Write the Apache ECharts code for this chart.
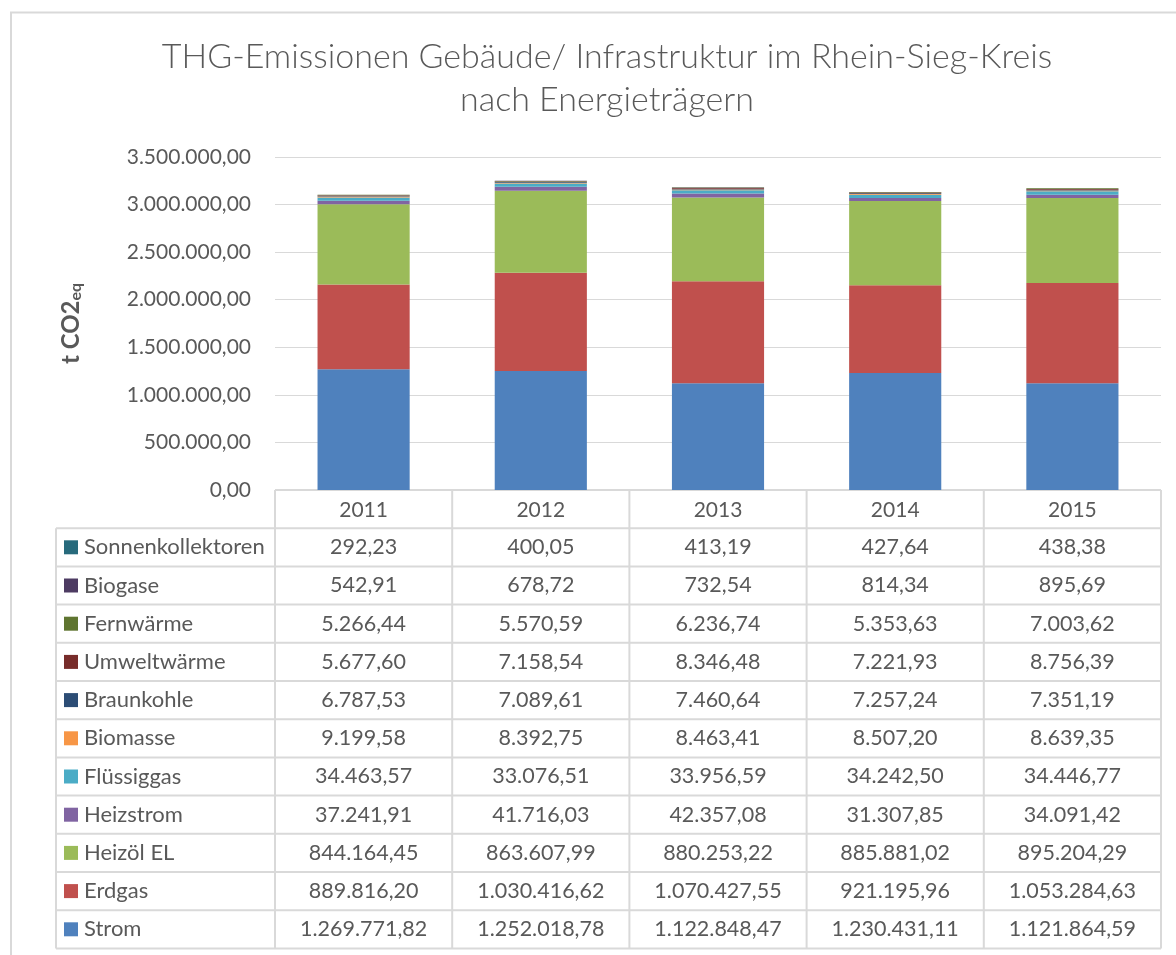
<!DOCTYPE html>
<html>
<head>
<meta charset="utf-8">
<script src="https://cdn.jsdelivr.net/npm/echarts@6/dist/echarts.min.js"></script>
<style>
  html, body { margin: 0; padding: 0; background: #fff; }
  #main { width: 1176px; height: 955px; }
</style>
</head>
<body>
<div id="main"></div>
<script>
// Jahre (Kategorien)
var years = ['2011', '2012', '2013', '2014', '2015'];

// Werte je Energieträger, t CO2eq
var strom = [1269771.82, 1252018.78, 1122848.47, 1230431.11, 1121864.59];
var erdgas = [889816.20, 1030416.62, 1070427.55, 921195.96, 1053284.63];
var heizoel = [844164.45, 863607.99, 880253.22, 885881.02, 895204.29];
var heizstrom = [37241.91, 41716.03, 42357.08, 31307.85, 34091.42];
var fluessiggas = [34463.57, 33076.51, 33956.59, 34242.50, 34446.77];
var biomasse = [9199.58, 8392.75, 8463.41, 8507.20, 8639.35];
var braunkohle = [6787.53, 7089.61, 7460.64, 7257.24, 7351.19];
var umweltwaerme = [5677.60, 7158.54, 8346.48, 7221.93, 8756.39];
var fernwaerme = [5266.44, 5570.59, 6236.74, 5353.63, 7003.62];
var biogase = [542.91, 678.72, 732.54, 814.34, 895.69];
var sonnenkollektoren = [292.23, 400.05, 413.19, 427.64, 438.38];

// Reihenfolge im Stapel (unten -> oben)
var seriesList = [
  { name: 'Strom', data: strom, color: '#4F81BD' },
  { name: 'Erdgas', data: erdgas, color: '#C0504D' },
  { name: 'Heizöl EL', data: heizoel, color: '#9BBB59' },
  { name: 'Heizstrom', data: heizstrom, color: '#8064A2' },
  { name: 'Flüssiggas', data: fluessiggas, color: '#4BACC6' },
  { name: 'Biomasse', data: biomasse, color: '#F79646' },
  { name: 'Braunkohle', data: braunkohle, color: '#2C4D75' },
  { name: 'Umweltwärme', data: umweltwaerme, color: '#772C2A' },
  { name: 'Fernwärme', data: fernwaerme, color: '#5F7530' },
  { name: 'Biogase', data: biogase, color: '#4D3B62' },
  { name: 'Sonnenkollektoren', data: sonnenkollektoren, color: '#276A7C' }
];

var FONT = 'Lato';
var TXT = '#595959';
var LINE = '#D9D9D9';

// deutsches Zahlenformat 1.234.567,89
function de(v) {
  var p = Number(v).toFixed(2).split('.');
  return p[0].replace(/\B(?=(\d{3})+(?!\d))/g, '.') + ',' + p[1];
}

var chart = echarts.init(document.getElementById('main'));

var option = {
  backgroundColor: '#fff',
  animation: false,
  title: {
    text: 'THG-Emissionen Gebäude/ Infrastruktur im Rhein-Sieg-Kreis\nnach Energieträgern',
    left: 602,
    textAlign: 'center',
    top: 31,
    textStyle: {
      fontFamily: FONT,
      fontSize: 34,
      fontWeight: 300,
      color: TXT,
      lineHeight: 43
    }
  },
  grid: {
    left: 275,
    right: 15,
    top: 157,
    bottom: 465,
    containLabel: false
  },
  xAxis: {
    type: 'category',
    data: years,
    axisLine: { show: false },
    axisTick: { show: false },
    axisLabel: {
      fontFamily: FONT,
      fontSize: 21,
      color: TXT,
      margin: 10
    }
  },
  yAxis: {
    type: 'value',
    min: 0,
    max: 3500000,
    interval: 500000,
    name: '{a|t CO2}{b|eq}',
    nameLocation: 'middle',
    nameRotate: 90,
    nameGap: 191,
    nameTextStyle: {
      rich: {
        a: { fontFamily: FONT, fontSize: 24, fontWeight: 'bold', color: TXT },
        b: { fontFamily: FONT, fontSize: 16, fontWeight: 'bold', color: TXT, padding: [10, 0, 0, 0] }
      }
    },
    axisLine: { show: false },
    axisTick: { show: false },
    axisLabel: {
      fontFamily: FONT,
      fontSize: 21,
      color: TXT,
      margin: 24,
      formatter: function (v) { return de(v); }
    },
    splitLine: { lineStyle: { color: LINE, width: 1 } }
  },
  series: seriesList.map(function (s) {
    return {
      name: s.name,
      type: 'bar',
      stack: 'total',
      barCategoryGap: '48%',
      data: s.data,
      itemStyle: { color: s.color }
    };
  })
};

chart.setOption(option);

// Datentabelle unter dem Diagramm
function buildTable() {
  var c0 = chart.convertToPixel({ xAxisIndex: 0 }, 0);
  var c1 = chart.convertToPixel({ xAxisIndex: 0 }, 1);
  var colW = c1 - c0;
  var colLeft = c0 - colW / 2;
  var colRight = colLeft + colW * years.length;
  var y0 = chart.convertToPixel({ yAxisIndex: 0 }, 0);
  var rowH = 38.2;
  var tableLeft = 56;
  var rows = seriesList.slice().reverse();
  var bottom = y0 + rowH * (rows.length + 1);
  var els = [];
  var lineStyle = { stroke: LINE, lineWidth: 2 };

  // äußerer Rahmen des Diagramms
  els.push({ type: 'polyline', shape: { points: [[11, 960], [11, 12.5], [1180, 12.5]] }, style: { stroke: LINE, lineWidth: 2, fill: null } });

  // waagerechte Linien
  els.push({ type: 'line', shape: { x1: colLeft, y1: y0, x2: colRight, y2: y0 }, style: lineStyle });
  for (var r = 1; r <= rows.length + 1; r++) {
    var y = y0 + rowH * r;
    els.push({ type: 'line', shape: { x1: tableLeft, y1: y, x2: colRight, y2: y }, style: lineStyle });
  }
  // senkrechte Linien
  els.push({ type: 'line', shape: { x1: tableLeft, y1: y0 + rowH, x2: tableLeft, y2: bottom }, style: lineStyle });
  for (var c = 0; c <= years.length; c++) {
    var x = colLeft + colW * c;
    els.push({ type: 'line', shape: { x1: x, y1: y0, x2: x, y2: bottom }, style: lineStyle });
  }

  rows.forEach(function (s, i) {
    var cy = y0 + rowH * (i + 1) + rowH / 2;
    els.push({ type: 'rect', shape: { x: 64, y: cy - 7, width: 14, height: 14 }, style: { fill: s.color } });
    els.push({
      type: 'text',
      style: { text: s.name, x: 84, y: cy, fontFamily: FONT, fontSize: 22, fill: TXT, textVerticalAlign: 'middle', verticalAlign: 'middle' }
    });
    s.data.forEach(function (v, j) {
      var cx = chart.convertToPixel({ xAxisIndex: 0 }, j);
      els.push({
        type: 'text',
        style: { text: de(v), x: cx, y: cy, fontFamily: FONT, fontSize: 21.5, fill: TXT, align: 'center', textAlign: 'center', verticalAlign: 'middle', textVerticalAlign: 'middle' }
      });
    });
  });

  chart.setOption({ graphic: { elements: els } });
}

buildTable();
</script>
</body>
</html>
